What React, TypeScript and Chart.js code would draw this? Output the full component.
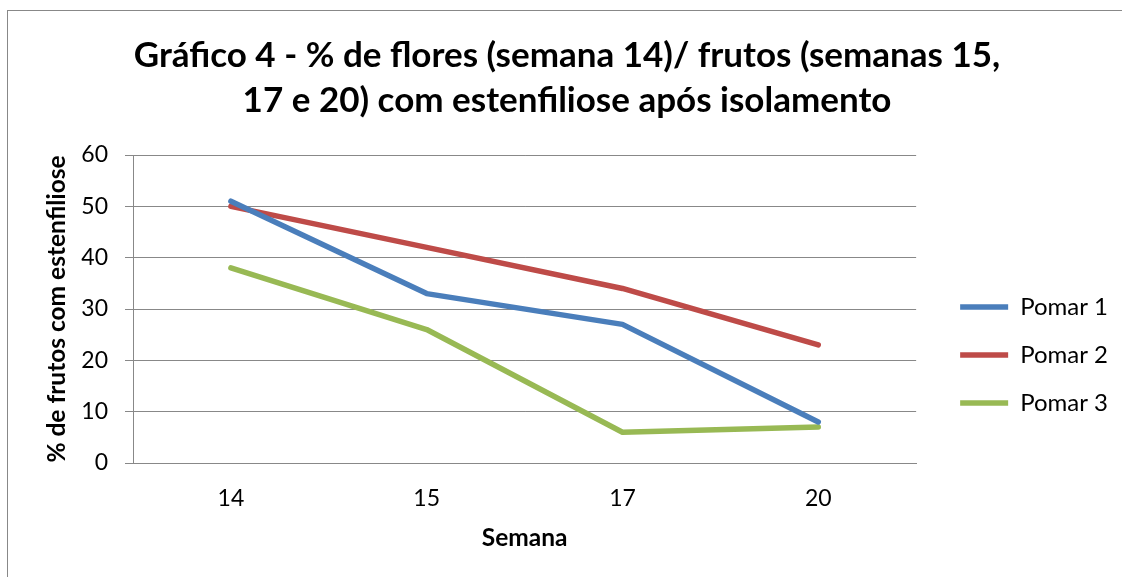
import React, { useEffect, useRef } from "react";
import { Chart, registerables } from "chart.js";

Chart.register(...registerables);

const categories = ["14", "15", "17", "20"];
const pomar1 = [51, 33, 27, 8];
const pomar2 = [50, 42, 34, 23];
const pomar3 = [38, 26, 6, 7];
const seriesNames = ["Pomar 1", "Pomar 2", "Pomar 3"];
const titleLines = [
  "Gráfico 4 - % de flores (semana 14)/ frutos (semanas 15,",
  "17 e 20) com estenfiliose após isolamento",
];
const yTitle = "% de frutos com estenfiliose";
const xTitle = "Semana";

const BLUE = "#4A7EBB";
const RED = "#BE4B48";
const GREEN = "#98B954";
const GRID = "#888888";
const FONT = "Lato";

const frame = {
  id: "frame",
  afterDraw(chart: any) {
    const ctx = chart.ctx;
    ctx.save();
    ctx.strokeStyle = "#888888";
    ctx.lineWidth = 1;
    ctx.strokeRect(7.5, 10.5, chart.width + 20, chart.height + 20);
    ctx.restore();
  },
};

export default function App() {
  const ref = useRef<HTMLCanvasElement>(null);
  useEffect(() => {
    document.body.style.margin = "0";
    const canvas = ref.current!;
    Chart.defaults.font.family = FONT;
    Chart.defaults.color = "#000";
    const mk = (label: string, data: number[], color: string) => ({
      label,
      data,
      borderColor: color,
      backgroundColor: color,
      borderWidth: 5.5,
      borderCapStyle: "round" as const,
      borderJoinStyle: "round" as const,
      pointRadius: 0,
      pointHoverRadius: 0,
      pointStyle: "line" as const,
      tension: 0,
      yAxisID: "y",
    });
    const chart = new Chart(canvas, {
      type: "line",
      data: {
        labels: categories,
        datasets: [
          mk(seriesNames[0], pomar1, BLUE),
          mk(seriesNames[1], pomar2, RED),
          mk(seriesNames[2], pomar3, GREEN),
        ],
      },
      options: {
        responsive: false,
        animation: false,
        devicePixelRatio: 1,
        layout: { padding: { left: 16, right: 4, top: 0, bottom: 0 } },
        plugins: {
          tooltip: { enabled: false },
          title: {
            display: true,
            text: titleLines,
            color: "#000",
            font: { family: FONT, size: 35, weight: "bold", lineHeight: 45 / 35 },
            padding: { top: 33.5, bottom: 31.5 },
          },
          legend: {
            display: true,
            position: "right",
            fullSize: false,
            align: "center",
            title: { display: true, text: "", padding: { top: 77.6, bottom: 0 } },
            labels: {
              usePointStyle: true,
              pointStyleWidth: 48,
              padding: 24,
              color: "#000",
              font: { family: FONT, size: 24 },
            },
          },
        },
        scales: {
          x: {
            type: "category",
            offset: true,
            grid: { display: false, drawTicks: false },
            border: { display: true, color: GRID, width: 1 },
            ticks: { padding: 22, color: "#000", font: { family: FONT, size: 23 } },
            title: {
              display: true,
              text: xTitle,
              color: "#000",
              font: { family: FONT, size: 24.5, weight: "bold" },
              padding: { top: 0, bottom: 24.5 },
            },
            afterFit: (s: any) => {
              s.height = 114;
            },
          },
          y: {
            type: "linear",
            position: "left",
            min: 0,
            max: 60,
            ticks: { stepSize: 10, padding: 17, color: "#000", font: { family: FONT, size: 23 } },
            grid: { color: GRID, lineWidth: 1, drawTicks: true, tickLength: 8, tickColor: GRID },
            border: { display: true, color: GRID, width: 1 },
            title: {
              display: true,
              text: yTitle,
              color: "#000",
              font: { family: FONT, size: 24.5, weight: "bold" },
              padding: { top: 26.3, bottom: 0 },
            },
            afterFit: (s: any) => {
              s.width = 117;
            },
          },
          yR: {
            type: "linear",
            position: "right",
            display: true,
            grid: { display: false, drawTicks: false },
            border: { display: false },
            ticks: { display: false },
            afterFit: (s: any) => {
              s.width = 20;
            },
          },
        },
      },
      plugins: [frame],
    });
    return () => chart.destroy();
  }, []);
  return <canvas ref={ref} width={1122} height={577} style={{ display: "block", width: 1122, height: 577 }} />;
}
